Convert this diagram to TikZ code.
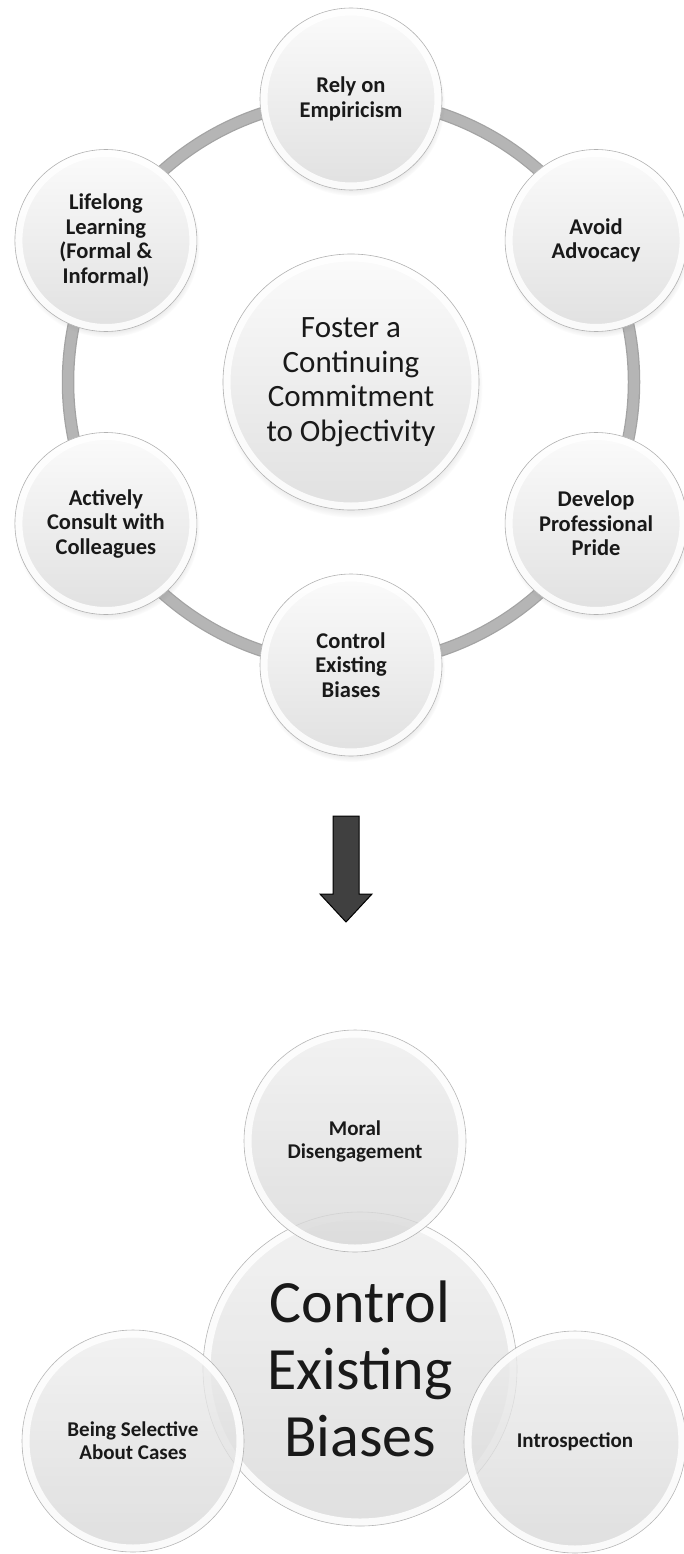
\documentclass[tikz,border=0pt]{standalone}
\usepackage{fontspec}
\setmainfont{Carlito}
\usetikzlibrary{calc,shadows}

\tikzset{
  % glossy round buttons
  bubble/.style={circle, inner sep=0pt, align=center, text=black!90,
    draw=gray!60, line width=0.6pt, top color=gray!3, bottom color=gray!24,
    path picture={\draw[white, line width=15pt, opacity=0.85]
      let \p1=($(path picture bounding box.north east)-(path picture bounding box.center)$)
      in (path picture bounding box.center) circle [x radius=\x1, y radius=\y1];}},
  ringbubble/.style={bubble, minimum size=182pt,
    circular drop shadow={shadow xshift=1pt, shadow yshift=-4pt, shadow scale=1.02, opacity=0.35},
    font=\bfseries\fontsize{22.5}{24.5}\selectfont},
  hubbubble/.style={bubble, minimum size=256pt,
    circular drop shadow={shadow xshift=1pt, shadow yshift=-5pt, shadow scale=1.02, opacity=0.4},
    font=\fontsize{31}{34.5}\selectfont},
  glassbubble/.style={bubble, top color=gray!13, bottom color=gray!32, draw=gray!70,
    fill opacity=0.78, draw opacity=0.8, text opacity=1},
  bigbubble/.style={glassbubble, minimum size=314pt, font=\fontsize{60}{67}\selectfont},
  smallbubble/.style={glassbubble, minimum size=222pt, font=\bfseries\fontsize{21}{23}\selectfont},
  ring/.style={draw=gray!58, line width=10pt, preaction={draw=gray!72, line width=12.5pt}},
  blockarrow/.style={draw=black, line width=1pt, fill=black!75, line join=miter},
}

\begin{document}
\begin{tikzpicture}[x=1pt, y=1pt]
  \useasboundingbox (0,0) rectangle (684,-1554);

  % === RING OF SIX ===
  \coordinate (hub) at (351,-382);
  \draw[ring] (hub) circle [radius=283];
  \foreach \ang/\name/\txt in {90/rely/{Rely on\\Empiricism},
      30/avoid/{Avoid\\Advocacy},
      -30/pride/{Develop\\Professional\\Pride},
      -90/biases/{Control\\Existing\\Biases},
      -150/consult/{Actively\\Consult with\\Colleagues},
      150/learning/{Lifelong\\Learning\\(Formal \&\\Informal)}}
    \node[ringbubble] (\name) at ([shift={(\ang:283)}]hub) {\txt};
  \node[hubbubble] (foster) at (hub) {Foster a\\Continuing\\Commitment\\to Objectivity};

  % === DOWN ARROW ===
  \draw[blockarrow] (333,-816) -- (359,-816) -- (359,-894) -- (372,-894)
    -- (346,-922) -- (320,-894) -- (333,-894) -- cycle;

  % === BIASES CLUSTER ===
  \node[bigbubble] (control) at (360,-1369) {Control\\Existing\\Biases};
  \node[smallbubble] (moral) at (355,-1141) {Moral\\Disengagement};
  \node[smallbubble] (selective) at (133,-1441) {Being Selective\\About Cases};
  \node[smallbubble] (intro) at (575,-1442) {Introspection};
\end{tikzpicture}
\end{document}
